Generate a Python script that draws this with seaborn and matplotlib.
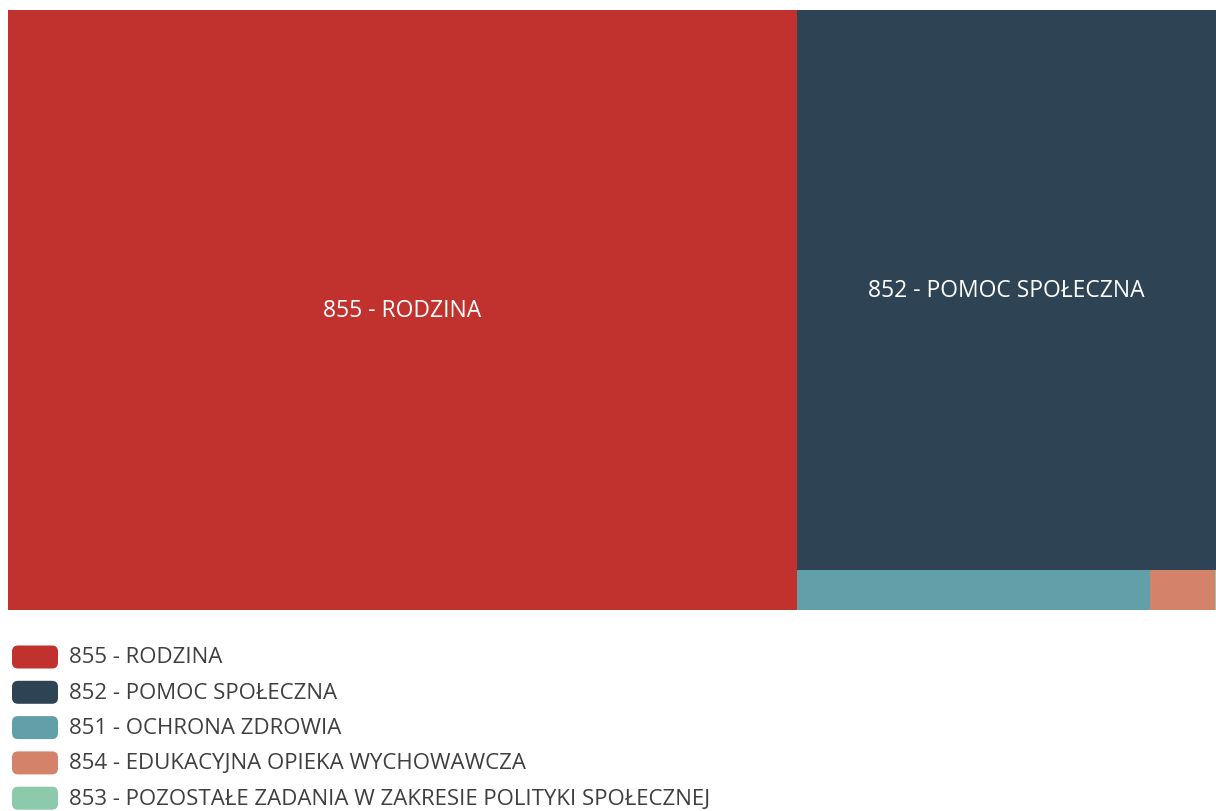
import matplotlib
matplotlib.use("Agg")
import matplotlib.pyplot as plt
from matplotlib.patches import Rectangle, FancyBboxPatch
import seaborn as sns

# data
labels = ["855 - RODZINA", "852 - POMOC SPOŁECZNA", "851 - OCHRONA ZDROWIA",
          "854 - EDUKACYJNA OPIEKA WYCHOWAWCZA",
          "853 - POZOSTAŁE ZADANIA W ZAKRESIE POLITYKI SPOŁECZNEJ"]
values = [473.4, 234.6, 14.1, 2.6, 0.05]
colors = ["#C1322F", "#2E4454", "#62A0A9", "#D4826A", "#8DC9AB"]
show_label = [True, True, False, False, False]

sns.set_theme(style="white")
plt.rcParams['font.family'] = ['Open Sans', 'DejaVu Sans']


def worst(row, w):
    s = sum(row)
    return max(max(w * w * r / (s * s), s * s / (w * w * r)) for r in row)


def layout_row(row, x, y, dx, dy):
    s = sum(row)
    rects = []
    if dx >= dy:
        # column on the left, full height
        width = s / dy
        yy = y + dy
        for r in row:
            h = r / width
            rects.append((x, yy - h, width, h))
            yy -= h
        return rects, (x + width, y, dx - width, dy)
    else:
        # row on top, full width
        height = s / dx
        xx = x
        for r in row:
            w = r / height
            rects.append((xx, y + dy - height, w, height))
            xx += w
        return rects, (x, y, dx, dy - height)


def squarify(vals, x, y, dx, dy):
    total = sum(vals)
    vals = [v * dx * dy / total for v in vals]
    rects = []
    row = []
    i = 0
    while i < len(vals):
        side = min(dx, dy)
        if not row or worst(row + [vals[i]], side) <= worst(row, side):
            row.append(vals[i])
            i += 1
        else:
            r, (x, y, dx, dy) = layout_row(row, x, y, dx, dy)
            rects += r
            row = []
    if row:
        r, _ = layout_row(row, x, y, dx, dy)
        rects += r
    return rects


W, H = 1208, 600
fig = plt.figure(figsize=(12.16, 8.12), dpi=100)
ax = fig.add_axes([8 / 1216, (812 - 611) / 812, 1208 / 1216, 600 / 812])
ax.set_xlim(0, W)
ax.set_ylim(0, H)
ax.axis("off")

rects = squarify(values, 0, 0, W, H)
for (rx, ry, rw, rh), c, lab, show in zip(rects, colors, labels, show_label):
    ax.add_patch(Rectangle((rx, ry), rw, rh, facecolor=c, edgecolor="none"))
    if show:
        ax.text(rx + rw / 2, ry + rh / 2, lab, color="white", fontsize=16.5,
                ha="center", va="center")

# legend
lax = fig.add_axes([0, 0, 1, 1], facecolor="none")
lax.set_xlim(0, 1216)
lax.set_ylim(812, 0)
lax.axis("off")
for i, (lab, c) in enumerate(zip(labels, colors)):
    yc = 658 + 35.3 * i
    lax.add_patch(FancyBboxPatch((14, yc - 9.5), 42, 19,
                                 boxstyle="round,pad=2,rounding_size=6",
                                 facecolor=c, edgecolor="none"))
    lax.text(69, yc, lab, color="#3f3f3f", fontsize=16, ha="left", va="center")

fig.savefig("out.png", dpi=100, facecolor="white")
